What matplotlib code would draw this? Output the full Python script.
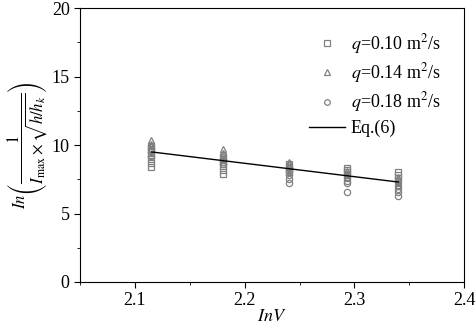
import numpy as np
import matplotlib
matplotlib.use("Agg")
import matplotlib.pyplot as plt
from matplotlib.ticker import MultipleLocator

plt.rcParams["font.family"] = "Liberation Serif"
plt.rcParams["mathtext.fontset"] = "stix"

# ── Data ──────────────────────────────────────────────────────────────────────
lnV = [2.115, 2.18, 2.24, 2.293, 2.34]

q010 = [
    [8.4, 8.7, 9.0, 9.3, 9.6, 9.9],
    [7.9, 8.2, 8.5, 8.8, 9.0],
    [8.0, 8.2, 8.4, 8.6],
    [7.8, 8.0, 8.2, 8.3],
    [7.4, 7.6, 7.8, 8.0],
]
q014 = [
    [9.7, 9.9, 10.1, 10.4],
    [9.0, 9.2, 9.4, 9.7],
    [8.4, 8.6, 8.8],
    [7.7, 7.9, 8.1],
    [7.1, 7.3, 7.5, 7.7],
]
q018 = [
    [9.2, 9.5, 9.7, 9.9],
    [8.6, 8.8, 9.0, 9.3],
    [7.2, 7.5, 7.8, 8.1, 8.3],
    [6.6, 7.2, 7.4, 7.6],
    [6.3, 6.6, 6.8, 7.0],
]
eq6_x = [2.115, 2.34]
eq6_y = [9.5, 7.3]

series = [
    (q010, "s", r"$q$=0.10 m$^2$/s"),
    (q014, "^", r"$q$=0.14 m$^2$/s"),
    (q018, "o", r"$q$=0.18 m$^2$/s"),
]

fig = plt.figure(figsize=(4.77, 3.26), dpi=100)
ax = fig.add_axes([0.168, 0.135, 0.805, 0.84])

for groups, marker, label in series:
    xs = [x for x, g in zip(lnV, groups) for _ in g]
    ys = [v for g in groups for v in g]
    ax.plot(xs, ys, linestyle="none", marker=marker, markersize=4.5,
            markerfacecolor="none", markeredgecolor="#808080",
            markeredgewidth=0.9, label=label)

ax.plot(eq6_x, eq6_y, color="black", linewidth=1.0, label="Eq.(6)")

ax.set_xlim(2.05, 2.4)
ax.set_ylim(0, 20)
ax.xaxis.set_major_locator(MultipleLocator(0.1))
ax.xaxis.set_minor_locator(MultipleLocator(0.05))
ax.yaxis.set_major_locator(MultipleLocator(5))
ax.yaxis.set_minor_locator(MultipleLocator(2.5))
ax.tick_params(which="both", direction="out", labelsize=13)
ax.tick_params(which="major", length=4)
ax.tick_params(which="minor", length=2.5)

ax.set_xlabel(r"$InV$", fontsize=13, labelpad=-1)
ax.set_ylabel(r"$In\left(\dfrac{1}{I_{\mathrm{max}}\times\sqrt{h/h_k}}\right)$",
              fontsize=12, labelpad=2)

ax.legend(loc="upper right", frameon=False, fontsize=13, handlelength=2.0,
          handletextpad=0.3, borderaxespad=0.9, labelspacing=0.3,
          markerscale=0.9)

plt.savefig("out.png", dpi=100)
